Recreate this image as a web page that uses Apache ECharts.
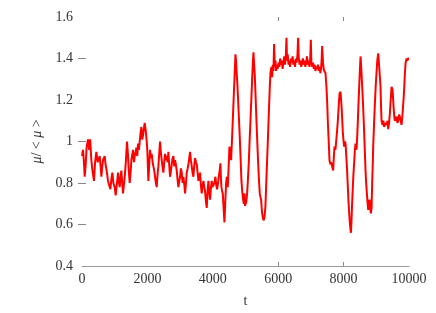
<!DOCTYPE html>
<html><head><meta charset="utf-8">
<script src="https://cdn.jsdelivr.net/npm/echarts@6/dist/echarts.min.js"></script>
<style>html,body{margin:0;padding:0;background:#fff}#c{width:436px;height:313px}</style>
</head><body><div id="c"></div>
<script>
const times = [0,30,60,82,110,140,184,220,250,286,320,367,400,439,480,541,570,592,620,643,694,720,745,770,796,830,867,900,928,960,1000,1030,1070,1102,1130,1153,1180,1204,1230,1255,1280,1306,1340,1377,1408,1430,1459,1490,1510,1540,1561,1590,1612,1640,1663,1690,1714,1740,1765,1790,1816,1840,1867,1890,1918,1950,1979,2000,2030,2060,2081,2110,2132,2160,2183,2210,2234,2260,2285,2310,2336,2360,2387,2410,2438,2460,2489,2515,2540,2565,2591,2620,2642,2670,2693,2720,2744,2770,2795,2820,2846,2870,2897,2920,2948,2975,2999,3025,3050,3075,3101,3130,3152,3180,3203,3230,3254,3280,3305,3330,3356,3380,3407,3430,3458,3485,3509,3535,3560,3585,3611,3635,3662,3690,3713,3740,3764,3790,3815,3840,3866,3890,3917,3940,3968,3990,4019,4050,4080,4105,4131,4160,4182,4210,4233,4250,4264,4285,4305,4330,4356,4380,4407,4430,4458,4485,4509,4535,4560,4585,4611,4636,4662,4680,4693,4710,4723,4750,4774,4800,4825,4850,4876,4900,4927,4950,4968,4985,4999,5025,5050,5075,5101,5125,5152,5178,5203,5225,5244,5265,5284,5310,5335,5360,5386,5410,5437,5460,5478,5495,5508,5535,5559,5585,5610,5635,5661,5687,5712,5740,5763,5794,5815,5835,5855,5875,5895,5915,5935,5960,5985,6010,6035,6060,6085,6110,6135,6160,6185,6210,6235,6253,6270,6290,6315,6340,6365,6390,6415,6440,6465,6490,6515,6540,6565,6590,6610,6630,6655,6680,6705,6730,6755,6780,6805,6830,6855,6880,6905,6930,6955,6980,6998,7015,7040,7065,7090,7115,7140,7165,7190,7215,7240,7265,7290,7315,7330,7344,7370,7395,7420,7446,7477,7500,7517,7545,7568,7595,7620,7650,7681,7700,7722,7750,7773,7800,7824,7850,7875,7906,7937,7960,7977,8000,8018,8040,8059,8075,8090,8110,8130,8150,8171,8190,8212,8225,8242,8260,8283,8300,8324,8345,8365,8380,8395,8415,8436,8455,8477,8500,8518,8535,8548,8570,8589,8610,8630,8650,8671,8690,8712,8730,8752,8775,8793,8810,8834,8855,8874,8890,8905,8930,8956,8980,9006,9030,9058,9075,9088,9110,9129,9145,9160,9190,9215,9240,9262,9290,9313,9340,9364,9390,9415,9440,9466,9480,9497,9512,9527,9550,9568,9595,9619,9645,9670,9695,9721,9745,9772,9800,9823,9840,9854,9875,9895,9925,9950,9976,10000];
const mu = [0.93,0.96,0.90,0.83,0.88,0.97,1.01,0.96,1.01,0.91,0.86,0.81,0.90,0.95,0.90,0.93,0.88,0.83,0.88,0.91,0.93,0.89,0.87,0.84,0.81,0.79,0.77,0.82,0.85,0.80,0.78,0.74,0.80,0.85,0.80,0.78,0.83,0.86,0.80,0.75,0.79,0.83,0.90,1.00,0.93,0.86,0.80,0.86,0.91,0.94,0.96,0.90,0.93,0.95,0.97,0.93,0.99,0.96,1.00,1.04,1.07,1.01,1.03,1.06,1.09,1.05,1.00,0.95,0.81,0.90,0.96,0.92,0.94,0.90,0.88,0.86,0.83,0.80,0.78,0.84,0.88,0.94,1.00,0.95,0.91,0.88,0.85,0.90,0.94,0.91,0.93,0.90,0.95,0.88,0.83,0.86,0.89,0.92,0.93,0.88,0.91,0.89,0.86,0.82,0.78,0.81,0.83,0.87,0.85,0.80,0.83,0.79,0.75,0.80,0.85,0.87,0.89,0.92,0.95,0.91,0.88,0.85,0.83,0.88,0.92,0.90,0.89,0.85,0.81,0.83,0.85,0.79,0.75,0.79,0.81,0.78,0.76,0.71,0.68,0.76,0.81,0.76,0.72,0.77,0.81,0.78,0.78,0.80,0.83,0.79,0.77,0.80,0.83,0.86,0.895,0.82,0.78,0.76,0.75,0.68,0.61,0.70,0.80,0.83,0.78,0.88,0.975,0.95,0.91,1.00,1.10,1.20,1.30,1.37,1.42,1.39,1.35,1.28,1.20,1.11,1.02,0.92,0.81,0.76,0.72,0.70,0.75,0.69,0.686,0.71,0.75,0.82,0.90,1.00,1.10,1.20,1.30,1.38,1.43,1.37,1.32,1.21,1.10,1.00,0.90,0.82,0.75,0.73,0.72,0.68,0.655,0.63,0.62,0.64,0.69,0.80,0.91,1.02,1.13,1.25,1.33,1.36,1.31,1.37,1.34,1.47,1.36,1.39,1.34,1.37,1.35,1.38,1.36,1.40,1.37,1.39,1.35,1.38,1.41,1.37,1.42,1.50,1.39,1.42,1.37,1.39,1.36,1.40,1.38,1.41,1.37,1.39,1.36,1.40,1.38,1.42,1.50,1.40,1.37,1.39,1.36,1.38,1.40,1.37,1.39,1.36,1.38,1.41,1.37,1.39,1.36,1.40,1.49,1.38,1.36,1.38,1.35,1.37,1.34,1.36,1.35,1.37,1.34,1.36,1.33,1.36,1.40,1.46,1.38,1.345,1.35,1.33,1.26,1.18,1.10,1.00,0.91,0.89,0.90,0.88,0.86,0.92,0.975,0.96,1.00,1.05,1.10,1.17,1.23,1.24,1.17,1.10,1.04,1.00,0.975,1.00,0.99,0.95,0.91,0.85,0.78,0.71,0.654,0.61,0.573,0.56,0.62,0.70,0.78,0.84,0.90,0.96,0.99,0.97,0.96,1.02,1.10,1.18,1.265,1.35,1.41,1.37,1.33,1.26,1.20,1.12,1.04,0.95,0.86,0.80,0.75,0.71,0.67,0.70,0.72,0.68,0.654,0.68,0.80,0.88,0.975,1.08,1.18,1.26,1.33,1.39,1.425,1.39,1.36,1.31,1.264,1.17,1.10,1.08,1.10,1.07,1.07,1.09,1.08,1.10,1.06,1.09,1.135,1.20,1.264,1.27,1.25,1.21,1.17,1.12,1.10,1.11,1.12,1.09,1.10,1.13,1.12,1.10,1.08,1.13,1.18,1.22,1.26,1.33,1.377,1.40,1.39,1.40,1.40];
const xTickLabels = [0, 2000, 4000, 6000, 8000, 10000];
const yTickLabels = [0.4, 0.6, 0.8, 1, 1.2, 1.4, 1.6];
const xVisibleTicks = [6000, 8000];
const yVisibleTicks = [0.6, 0.8, 1.0, 1.4];

const points = times.map((t, i) => [t, mu[i]]);
const font = 'Liberation Serif';
const chart = echarts.init(document.getElementById('c'), null, {renderer: 'canvas'});
chart.setOption({
  animation: false,
  grid: {left: 82, right: 27, top: 17, bottom: 47},
  xAxis: [{
    type: 'value', min: 0, max: 10000, interval: 2000, position: 'bottom',
    name: 't', nameLocation: 'middle', nameGap: 28,
    nameTextStyle: {fontFamily: font, fontSize: 14, color: '#333'},
    axisLine: {show: true, lineStyle: {color: '#999', width: 1}},
    axisTick: {show: true, inside: true, length: 4, customValues: xVisibleTicks, lineStyle: {color: '#888'}},
    axisLabel: {fontFamily: font, fontSize: 14, color: '#333', margin: 6, customValues: xTickLabels,
      formatter: v => String(Math.round(v))},
    splitLine: {show: false}
  }, {
    type: 'value', min: 0, max: 10000, interval: 2000, position: 'top',
    axisLine: {show: false},
    axisTick: {show: true, inside: true, length: 4, customValues: xVisibleTicks, lineStyle: {color: '#888'}},
    axisLabel: {show: false}, splitLine: {show: false}
  }],
  yAxis: [{
    type: 'value', min: 0.4, max: 1.6, interval: 0.2, position: 'left',
    name: '{i|μ}/ < {i|μ} >', nameLocation: 'middle', nameGap: 37, nameRotate: 90,
    nameTextStyle: {fontFamily: font, fontSize: 14, color: '#333', rich: {i: {fontFamily: font, fontStyle: 'italic', fontSize: 14, color: '#333'}}},
    axisLine: {show: false},
    axisTick: {show: true, inside: true, length: 4, customValues: yVisibleTicks, lineStyle: {color: '#888'}},
    axisLabel: {fontFamily: font, fontSize: 14, color: '#333', margin: 9, customValues: yTickLabels,
      formatter: v => String(+v.toFixed(1))},
    splitLine: {show: false}
  }, {
    type: 'value', min: 0.4, max: 1.6, interval: 0.2, position: 'right',
    axisLine: {show: false},
    axisTick: {show: true, inside: true, length: 4, customValues: yVisibleTicks, lineStyle: {color: '#888'}},
    axisLabel: {show: false}, splitLine: {show: false}
  }],
  series: [{
    type: 'line', data: points, xAxisIndex: 0, yAxisIndex: 0,
    showSymbol: false, symbol: 'none',
    lineStyle: {color: '#ff0000', width: 2}
  }]
});
</script></body></html>
